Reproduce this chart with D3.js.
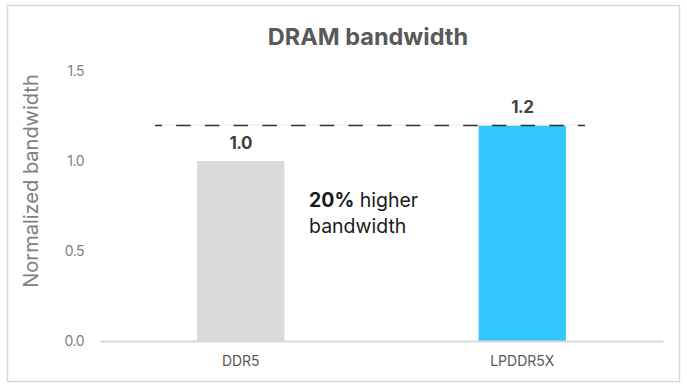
<!DOCTYPE html>
<html><head><meta charset="utf-8">
<script src="https://cdn.jsdelivr.net/npm/d3@7"></script>
<style>body{margin:0;background:#fff}svg{display:block}text{font-family:Inter,"Noto Sans",sans-serif}</style>
</head><body><svg id="c" width="687" height="390"></svg>
<script>
const categories = ["DDR5", "LPDDR5X"];
const values = [1.0, 1.2];
const valueLabels = ["1.0", "1.2"];
const yTicks = [0, 0.5, 1.0, 1.5];
const refLine = 1.2;

const svg = d3.select("#c");
svg.append("rect").attr("x",7.5).attr("y",5.5).attr("width",672).attr("height",376)
  .attr("fill","#fff").attr("stroke","#d9d9d9").attr("stroke-width",1.5);

const x = d3.scaleBand().domain(categories).range([100,663]).paddingInner(0.69).paddingOuter(0.345);
const y = d3.scaleLinear().domain([0,1.5]).range([341,71]);

svg.append("text").attr("x",368).attr("y",45).attr("text-anchor","middle")
  .attr("font-size",23.5).attr("font-weight",700).attr("fill","#595959").text("DRAM bandwidth");

const ya = svg.append("g").attr("transform","translate(90,0)")
  .call(d3.axisLeft(y).tickValues(yTicks).tickFormat(d3.format(".1f")).tickSize(0).tickPadding(6));
ya.select(".domain").remove();
ya.selectAll("text").attr("font-size",14).attr("fill","#7f7f7f").attr("font-family","Inter,sans-serif").attr("letter-spacing","-0.5");

svg.append("text").attr("transform","translate(38,181) rotate(-90)").attr("text-anchor","middle")
  .attr("font-size",20).attr("fill","#808080").text("Normalized bandwidth");

svg.selectAll("rect.bar").data(values).enter().append("rect").attr("class","bar")
  .attr("x",(d,i)=>x(categories[i])).attr("width",x.bandwidth())
  .attr("y",d=>y(d)).attr("height",d=>y(0)-y(d))
  .attr("fill",(d,i)=>i===0?"#d9d9d9":"#33c7ff");

const xa = svg.append("g").attr("transform","translate(0,"+y(0)+")")
  .call(d3.axisBottom(x).tickSize(0).tickPadding(15));
xa.select(".domain").attr("stroke","#d9d9d9").attr("stroke-width",2);
xa.selectAll("text").attr("font-size",14).attr("fill","#595959").attr("font-family","Inter,sans-serif");

svg.append("line").attr("x1",155).attr("x2",585).attr("y1",y(refLine)).attr("y2",y(refLine))
  .attr("stroke","#f2f2f2").attr("stroke-width",1.5);
svg.append("line").attr("x1",155).attr("x2",585).attr("y1",y(refLine)+0.5).attr("y2",y(refLine)+0.5)
  .attr("stroke","#333").attr("stroke-width",1.5).attr("stroke-dasharray","14.5,14.2").attr("stroke-dashoffset",7.5);

svg.selectAll("text.vl").data(values).enter().append("text").attr("class","vl")
  .attr("x",(d,i)=>x(categories[i])+x.bandwidth()/2).attr("y",d=>y(d)-12)
  .attr("text-anchor","middle").attr("font-size",17).attr("font-weight",700).attr("fill","#404040")
  .attr("letter-spacing","-0.5").text((d,i)=>valueLabels[i]);

const ann = svg.append("text").attr("x",309).attr("y",207).attr("font-size",19.5).attr("fill","#1a1a1a");
ann.append("tspan").attr("font-weight",700).text("20%");
ann.append("tspan").text(" higher");
svg.append("text").attr("x",309).attr("y",233).attr("font-size",19.5).attr("fill","#1a1a1a").text("bandwidth");
</script></body></html>
